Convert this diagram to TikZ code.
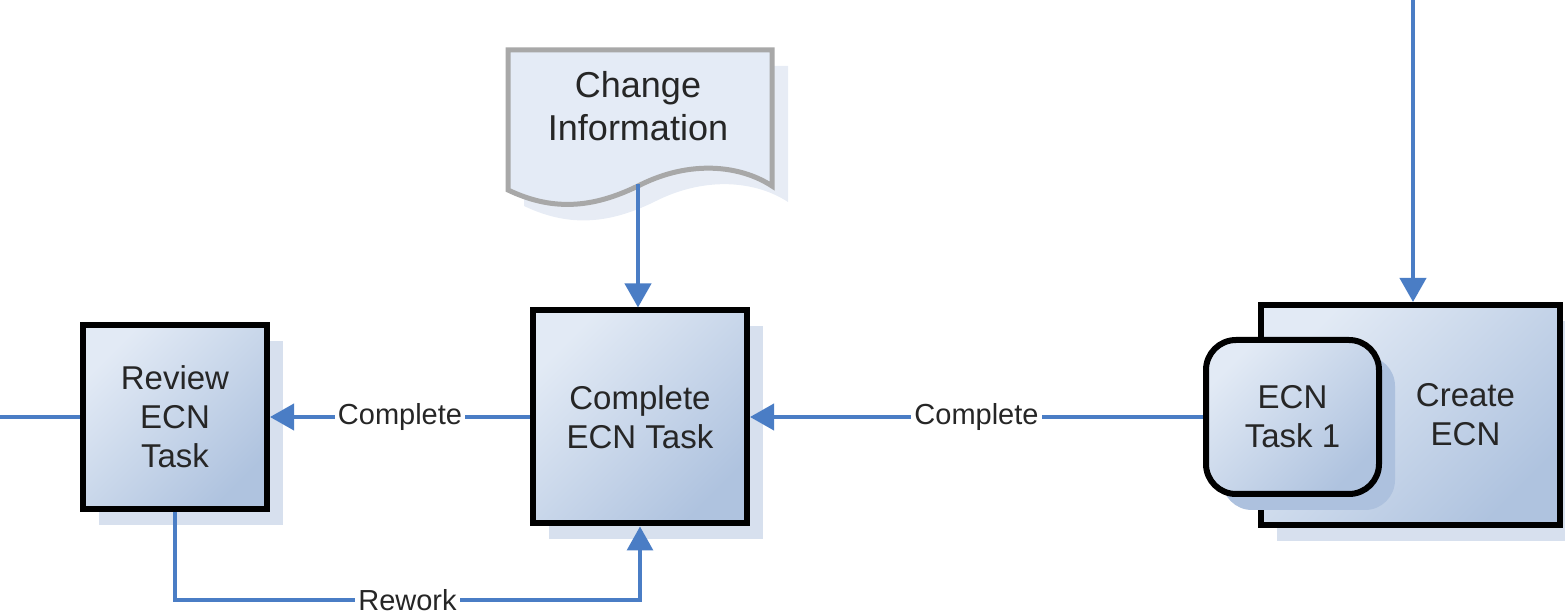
\documentclass[tikz,border=0pt]{standalone}
\usepackage{fontspec}
\setmainfont{Liberation Sans}
\usetikzlibrary{arrows.meta}
\usetikzlibrary{shadows}

\definecolor{flowblue}{HTML}{4A7DC5}
\definecolor{boxlight}{HTML}{E2EAF5}
\definecolor{boxdark}{HTML}{AFC3DF}
\definecolor{shadowblue}{HTML}{D7E0EE}
\definecolor{taskshadow}{HTML}{ADC1DE}
\definecolor{docfill}{HTML}{E4EBF6}
\definecolor{docline}{HTML}{A8A8A8}
\definecolor{textgray}{HTML}{262626}

\begin{document}
\begin{tikzpicture}[x=0.5pt, y=-0.5pt,
	task/.style={draw=black, line width=3pt, top color=boxlight, bottom color=boxdark, shading angle=45,
		align=center, text=textgray, font=\fontsize{16.5}{19.5}\selectfont, inner sep=0pt},
	tshadow/.style={drop shadow={shadow xshift=8pt, shadow yshift=-8pt, fill=#1, opacity=1}},
	flow/.style={draw=flowblue, line width=2pt, -{Triangle[length=12pt, width=13pt]}},
	lbl/.style={fill=white, text=textgray, font=\fontsize{14.5}{17}\selectfont, inner sep=1.5pt}]

	\useasboundingbox (0,0) rectangle (1565,614);
	\clip (0,0) rectangle (1565,614);

	% change information
	\filldraw[fill=docfill, draw=docline, line width=2.5pt, tshadow=shadowblue!60]
			(508,50) -- (508,190)
			.. controls (550,210) and (590,210) .. (640,185)
			.. controls (690,160) and (740,165) .. (772,186)
			-- (772,50) -- cycle;
	\node[align=center, text=textgray, font=\fontsize{18}{21.5}\selectfont] (info) at (638,106) {Change\\Information};
	\coordinate (infoout) at (638,184);

	\node[task, tshadow=shadowblue, minimum width=92pt, minimum height=92pt] (review) at (175,417) {Review\\ECN\\Task};
	\node[task, tshadow=shadowblue, minimum width=107pt, minimum height=106.5pt] (complete) at (640,417) {Complete\\ECN Task};
	\node[task, tshadow=shadowblue, minimum width=149.5pt, minimum height=110pt,
			label={[text=textgray, font=\fontsize{16.5}{19.5}\selectfont, align=center, xshift=27.5pt]center:Create\\ECN}] (create) at (1410.5,415) {};
	\node[task, tshadow=taskshadow, rounded corners=15pt, minimum width=86.5pt, minimum height=77pt] (ecntask) at (1292.5,417) {ECN\\Task 1};

	\coordinate (topin) at (1413,0);
	\coordinate (leftin) at (0,417);

	\draw[flow] (topin) -- (topin |- create.north);
	\draw[flow] (infoout) -- (infoout |- complete.north);
	\draw[flow] (ecntask) -- node[lbl]{Complete} (complete);
	\draw[flow] (complete) -- node[lbl]{Complete} (review);
	\draw[flow, -] (leftin) -- (review);
	%\draw[flow] (review.south) |- (complete.south);
	\draw[flow, line width=1.6pt] (review.south) -- ++(0,88) -| node[lbl, pos=0.25]{Rework} (complete.south);

\end{tikzpicture}
\end{document}
